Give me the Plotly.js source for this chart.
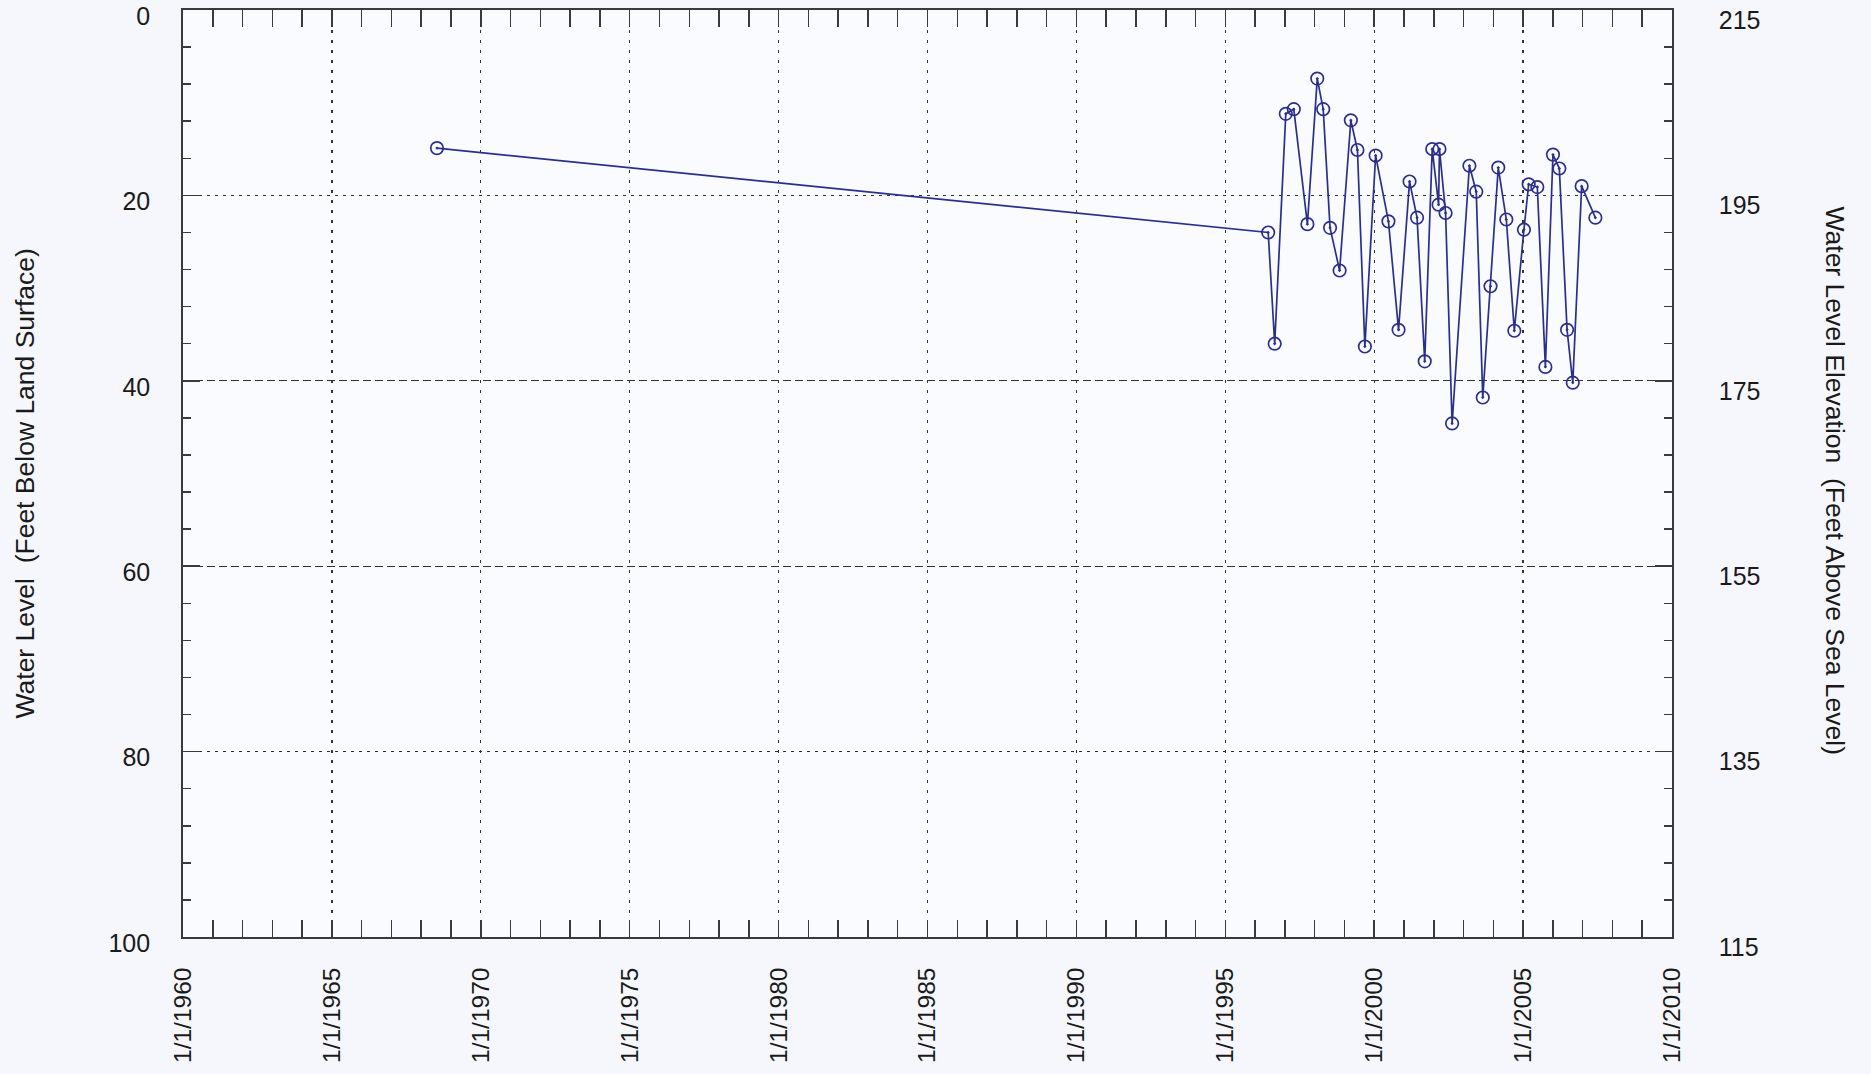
<!DOCTYPE html>
<html>
<head>
<meta charset="utf-8">
<script src="https://cdn.plot.ly/plotly-3.0.1.min.js"></script>
<style>
html,body{margin:0;padding:0;background:#f6f7fc;}
#chart{width:1871px;height:1074px;}
</style>
</head>
<body>
<div id="chart"></div>
<script>
// Measurement dates and depth to water (feet below land surface)
const dates = [
  "1968-07-12","1996-06-10","1996-08-29","1997-01-12","1997-04-20","1997-10-04",
  "1998-02-02","1998-04-16","1998-07-09","1998-11-03","1999-03-21","1999-06-10",
  "1999-09-09","2000-01-19","2000-06-24","2000-10-26","2001-03-10","2001-06-10",
  "2001-09-12","2001-12-13","2002-03-01","2002-03-12","2002-05-26","2002-08-14",
  "2003-03-14","2003-06-06","2003-08-25","2003-11-28","2004-03-02","2004-06-09",
  "2004-09-15","2005-01-11","2005-03-10","2005-06-24","2005-10-01","2006-01-02",
  "2006-03-21","2006-06-24","2006-09-02","2006-12-20","2007-06-06"
];
const depth = [
  14.9, 24.0, 36.0, 11.2, 10.7, 23.1,
  7.4, 10.7, 23.5, 28.1, 11.9, 15.1,
  36.3, 15.7, 22.8, 34.5, 18.5, 22.4,
  37.9, 15.0, 21.0, 15.0, 21.9, 44.6,
  16.8, 19.6, 41.8, 29.8, 17.0, 22.6,
  34.6, 23.7, 18.8, 19.1, 38.5, 15.6,
  17.1, 34.5, 40.2, 19.0, 22.4
];
const depthTicks = [0, 20, 40, 60, 80, 100];
const elevTicks = [115, 135, 155, 175, 195, 215];
const dottedGridLevels = [20, 80];
const dashedGridLevels = [40, 60];
const leftTitle = "Water Level\u00a0\u00a0(Feet Below Land Surface)";
const rightTitle = "Water Level Elevation\u00a0\u00a0(Feet Above Sea Level)";

const ink = "#2a2f8c";
const axisColor = "#3a3a3a";
const font = "Liberation Sans, Arial, sans-serif";

const trace = {
  x: dates, y: depth, type: "scatter", mode: "lines+markers",
  line: {color: ink, width: 1.7},
  marker: {symbol: "circle-open-dot", size: 12.5, color: ink, line: {width: 1.7, color: ink}},
  xaxis: "x", yaxis: "y", showlegend: false, hoverinfo: "x+y"
};
// invisible helper traces to activate the other axes
const helper2 = {x: [dates[0]], y: [215], xaxis: "x", yaxis: "y2", mode: "markers",
  marker: {opacity: 0}, showlegend: false, hoverinfo: "skip"};
const helper3 = {x: [dates[0]], y: [0], xaxis: "x", yaxis: "y3", mode: "markers",
  marker: {opacity: 0}, showlegend: false, hoverinfo: "skip"};
const helper4 = {x: [dates[0]], y: [0], xaxis: "x", yaxis: "y4", mode: "markers",
  marker: {opacity: 0}, showlegend: false, hoverinfo: "skip"};

const tickFont = {family: font, size: 25, color: "#1a1a1a"};
const titleFont = {family: font, size: 26.5, color: "#1a1a1a"};

const layout = {
  width: 1871, height: 1074,
  margin: {l: 182.5, r: 199, t: 10, b: 137, pad: 0},
  paper_bgcolor: "#f6f7fc",
  plot_bgcolor: "#fafbfe",
  font: {family: font, color: "#1a1a1a"},
  xaxis: {
    type: "date",
    range: ["1960-01-01", "2010-01-01"],
    tick0: "1960-01-01", dtick: "M60",
    tickformat: "%-m/%-d/%Y",
    tickangle: -90,
    tickfont: {family: font, size: 24.5, color: "#1a1a1a"},
    ticks: "inside", ticklen: 17, tickwidth: 1.5, tickcolor: axisColor,
    minor: {dtick: "M12", ticks: "inside", ticklen: 8, tickwidth: 1.5, tickcolor: axisColor, showgrid: false},
    showline: true, linecolor: axisColor, linewidth: 1.8, mirror: "allticks",
    showgrid: true, gridcolor: "#333", gridwidth: 1.3, griddash: "3px,7px",
    zeroline: false, ticklabelstandoff: 19, ticklabeloverflow: "allow"
  },
  yaxis: {
    range: [100, 0],
    tickvals: depthTicks,
    tickfont: tickFont,
    ticks: "inside", ticklen: 17, tickwidth: 1.5, tickcolor: axisColor,
    minor: {dtick: 4, ticks: "inside", ticklen: 8, tickwidth: 1.5, tickcolor: axisColor, showgrid: false},
    showline: true, linecolor: axisColor, linewidth: 1.8, mirror: false,
    showgrid: false, zeroline: false, ticklabelstandoff: 26, ticklabeloverflow: "allow",
    ticklabelshift: -6
  },
  yaxis2: {
    overlaying: "y", side: "right", anchor: "x",
    range: [115, 215],
    tickvals: elevTicks,
    tickfont: tickFont,
    ticks: "inside", ticklen: 17, tickwidth: 1.5, tickcolor: axisColor,
    minor: {dtick: 4, tick0: 115, ticks: "inside", ticklen: 8, tickwidth: 1.5, tickcolor: axisColor, showgrid: false},
    showline: true, linecolor: axisColor, linewidth: 1.8,
    showgrid: false, zeroline: false, ticklabelstandoff: 40, ticklabeloverflow: "allow",
    ticklabelshift: 10
  },
  yaxis3: {
    overlaying: "y", anchor: "x", range: [100, 0],
    tickvals: dottedGridLevels, showticklabels: false, ticks: "",
    showgrid: true, gridcolor: "#333", gridwidth: 1.3, griddash: "3px,5px",
    showline: false, zeroline: false
  },
  yaxis4: {
    overlaying: "y", anchor: "x", range: [100, 0],
    tickvals: dashedGridLevels, showticklabels: false, ticks: "",
    showgrid: true, gridcolor: "#333", gridwidth: 1.3, griddash: "8px,4px",
    showline: false, zeroline: false
  },
  annotations: [
    {text: leftTitle, xref: "paper", yref: "paper", x: 0, y: 0.5,
     xanchor: "center", yanchor: "middle", xshift: -159, yshift: -10,
     textangle: -90, showarrow: false, font: titleFont},
    {text: rightTitle, xref: "paper", yref: "paper", x: 1, y: 0.5,
     xanchor: "center", yanchor: "middle", xshift: 163, yshift: -7,
     textangle: 90, showarrow: false, font: titleFont}
  ]
};

Plotly.newPlot("chart", [helper3, helper4, helper2, trace], layout, {displayModeBar: false, staticPlot: true});
</script>
</body>
</html>
